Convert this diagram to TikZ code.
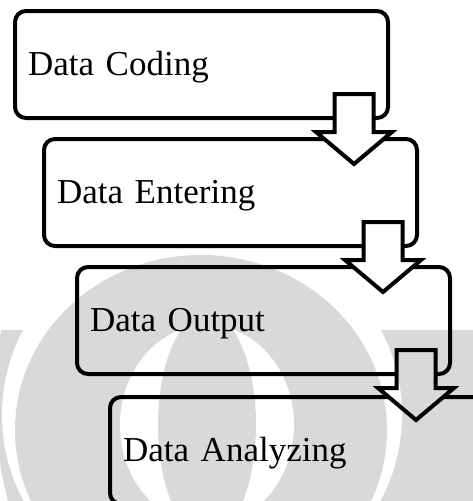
\documentclass[tikz,border=0pt]{standalone}
\usepackage{fontspec}
\setmainfont{Liberation Serif}
\usetikzlibrary{calc}
\definecolor{markGray}{RGB}{217,217,217}
\tikzset{
  stagebox/.style={draw=black,line width=4pt,rounded corners=11pt,anchor=north west,outer sep=0pt,
    minimum width=373pt,minimum height=107pt,text width=347pt,inner xsep=13pt,align=left,
    text height=22pt,text depth=0pt,font=\fontsize{35}{40}\selectfont},
  blockarrow/.style={draw=black,line width=4pt,line join=miter}
}
% faint seal printed behind the steps
\newcommand{\WaterMark}{%
  \begin{scope}
    \clip (-5,330) rectangle (480,510);
    \fill[markGray] (300,400) ellipse [x radius=305,y radius=350];
  \end{scope}
  \fill[white] (202,415) ellipse [x radius=200,y radius=190];
  \fill[markGray] (201,430) ellipse [x radius=186,y radius=175];
  \fill[white] (207,425) ellipse [x radius=87,y radius=100];
  \fill[markGray] (207,425) ellipse [x radius=49,y radius=112];
}
\newcommand{\ArrowPath}[1]{($(#1)+(-19.5,0)$) -- ++(39,0) -- ++(0,38) -- ++(18.5,0) -- ++(-38,32) -- ++(-38,-32) -- ++(18.5,0) -- cycle}

\begin{document}
\begin{tikzpicture}[x=1pt,y=-1pt]
\useasboundingbox (0,0) rectangle (472,501);
\fill[white] (0,0) rectangle (472,501);
\WaterMark

\node[stagebox] (coding) at (15,11) {Data Coding};
\node[stagebox] (entering) at (44,139) {Data Entering};
\node[stagebox] (output) at (77,267) {Data Output};
\node[stagebox] (analyzing) at (110,397) {Data Analyzing};

\coordinate (a1) at ($(coding.south east)+(-34,-24)$);
\coordinate (a2) at ($(entering.south east)+(-34,-24)$);
\coordinate (a3) at ($(output.south east)+(-34,-24)$);

\foreach \a in {a1,a2,a3}{
  \fill[white] \ArrowPath{\a};
  \begin{scope}
    \clip \ArrowPath{\a};
    \WaterMark
  \end{scope}
  \draw[blockarrow] \ArrowPath{\a};
}
\end{tikzpicture}
\end{document}
